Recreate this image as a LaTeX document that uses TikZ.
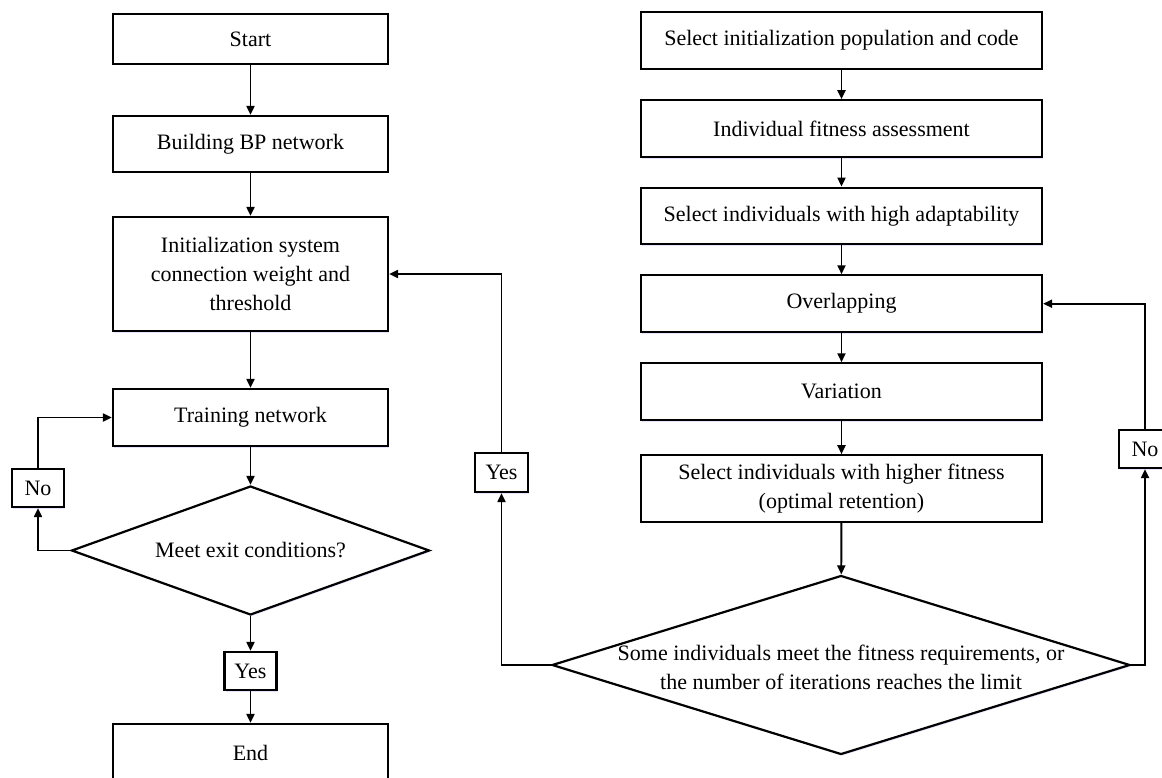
\documentclass[tikz,border=0pt]{standalone}
\usepackage{fontspec}
\setmainfont{Liberation Serif}
\usetikzlibrary{arrows.meta,shapes.geometric,shadows}
\begin{document}
\begin{tikzpicture}[x=1pt,y=-1pt,
  every node/.style={font=\fontsize{22}{29}\selectfont, inner sep=0pt, align=center, text=black},
  softshadow/.style={drop shadow={shadow xshift=1.2pt, shadow yshift=-1.5pt, fill=blue!35!white, opacity=0.3}},
  box/.style={draw, line width=2.2pt, fill=white, softshadow},
  lbox/.style={box, minimum width=275pt},
  rbox/.style={box, minimum width=401pt},
  tag/.style={box, minimum width=52pt, minimum height=38pt},
  dia/.style={diamond, draw, line width=2.2pt, fill=white, softshadow},
  arr/.style={line width=1.9pt, -{Triangle[length=9pt,width=8pt]}},
  line/.style={line width=1.9pt}]
\useasboundingbox (0,0) rectangle (1162,778);
\fill[white] (0,0) rectangle (1162,778);

% left column
\node[lbox, minimum height=50pt] (start) at (250.5,39) {Start};
\node[lbox, minimum height=56pt] (build) at (250.5,144) {Building BP network};
\node[lbox, minimum height=114pt] (init) at (250.5,274) {Initialization system\\connection weight and\\threshold};
\node[lbox, minimum height=57pt] (train) at (250.5,417.5) {Training network};
\node[dia, minimum width=358pt, minimum height=129pt] (d1) at (250.5,550.5) {};
\node (d1t) at (d1.center) {Meet exit conditions?};
\node[tag] (yes1) at (250.5,671) {Yes};
\node[lbox, minimum height=57pt] (end) at (250.5,752.5) {End};
\node[tag] (no1) at (38,488) {No};

% right column
\node[rbox, minimum height=56.7pt] (r1) at (841.5,40.3) {Select initialization population and code};
\node[rbox, minimum height=57pt] (r2) at (841.5,128.8) {Individual fitness assessment};
\node[rbox, minimum height=56.6pt] (r3) at (841.5,216) {Select individuals with high adaptability};
\node[rbox, minimum height=56.7pt] (r4) at (841.5,303.7) {Overlapping};
\node[rbox, minimum height=56.7pt] (r5) at (841.5,391.7) {Variation};
\node[rbox, minimum height=66.4pt] (r6) at (841.5,488.5) {Select individuals with higher fitness\\(optimal retention)};
\node[dia, minimum width=578pt, minimum height=179pt] (d2) at (841,665) {};
\node (d2t) at (841,667) {Some individuals meet the fitness requirements, or\\the number of iterations reaches the limit};
\node[tag, minimum width=53pt, minimum height=39pt] (yes2) at (501.5,472.5) {Yes};
\node[tag] (no2) at (1145,449) {No};

% left connectors
\draw[arr] (start) -- (build);
\draw[arr] (build) -- (init);
\draw[arr] (init) -- (train);
\draw[arr] (train) -- (d1);
\draw[arr] (d1) -- (yes1);
\draw[arr] (yes1) -- (end);
\draw[arr] (d1.west) -| (no1);
\draw[arr] (no1) |- (train);

% right connectors
\draw[arr] (r1) -- (r2);
\draw[arr] (r2) -- (r3);
\draw[arr] (r3) -- (r4);
\draw[arr] (r4) -- (r5);
\draw[arr] (r5) -- (r6);
\draw[arr] (r6) -- (d2);
\draw[arr] (d2.west) -| (yes2);
\draw[arr] (yes2) |- (init);
\draw[arr] (d2.east) -| (no2);
\draw[arr] (no2) |- (r4);
\end{tikzpicture}
\end{document}
